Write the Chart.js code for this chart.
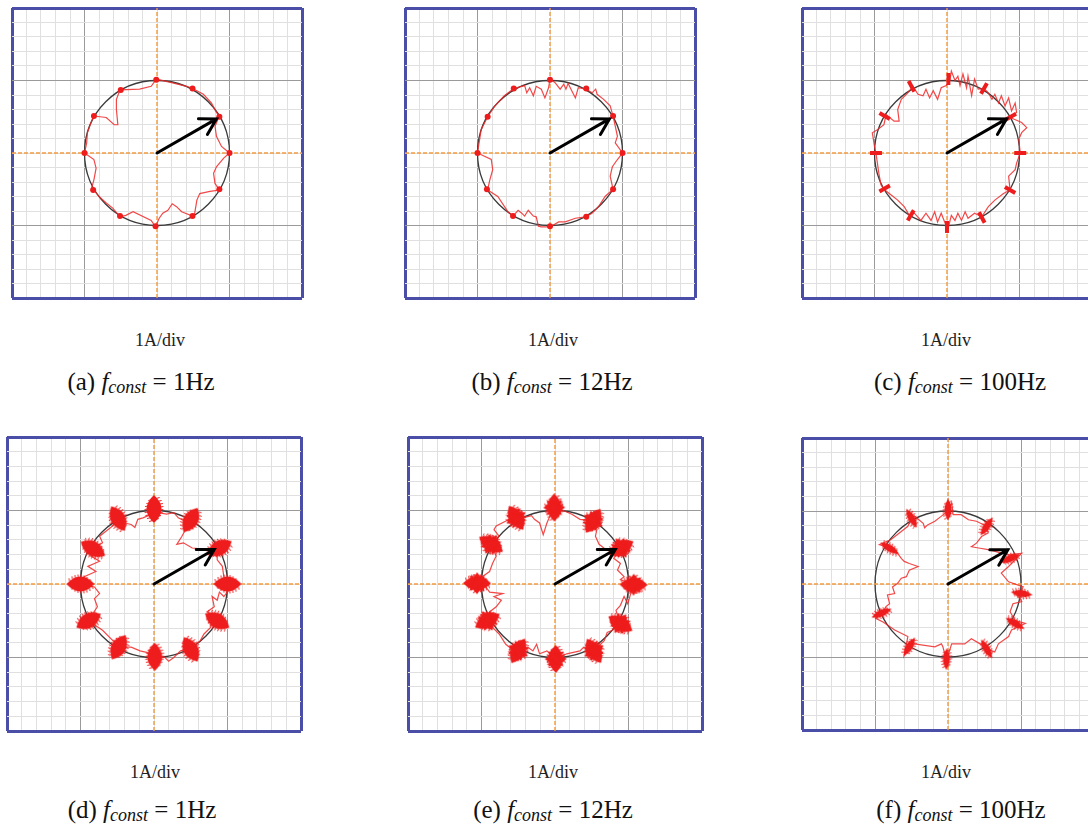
<!DOCTYPE html>
<html>
<head>
<meta charset="utf-8">
<script src="https://cdn.jsdelivr.net/npm/chart.js@4.4.1/dist/chart.umd.min.js"></script>
<style>
  body { margin: 0; background: #fff; overflow: hidden; }
  #fig { position: relative; width: 1088px; height: 832px; overflow: hidden; background: #fff; }
  #fig canvas { position: absolute; }
  .unit, .cap {
    position: absolute; width: 300px; text-align: center; white-space: nowrap;
    font-family: "Liberation Serif", "Times New Roman", serif; color: #111;
  }
  .unit { font-size: 18px; line-height: 18px; color: #222; }
  .cap { font-size: 25px; line-height: 25px; }
  .cap .sub { font-size: 18px; font-style: italic; position: relative; top: 3px; }
</style>
</head>
<body>
<div id="fig"></div>
<script>
// axis grid: 1A/div major, 5 minor steps per div
const gridTicks = [-2, -1.8, -1.6, -1.4, -1.2, -1, -0.8, -0.6, -0.4, -0.2, 0,
  0.2, 0.4, 0.6, 0.8, 1, 1.2, 1.4, 1.6, 1.8, 2]
const refRadius = 1      // reference circle, A
const arrowTip = [0.82, 0.47]
const unitLabel = "1A/div"
const letters = ["a", "b", "c", "d", "e", "f"]
const freqs = ["1Hz", "12Hz", "100Hz", "1Hz", "12Hz", "100Hz"]

// current trajectories (iα, iβ) in A
const pathA = [[-0.01,1.02],[0.20,0.97],[0.41,0.92],[0.49,0.89],[0.64,0.81],[0.75,0.69],[0.82,0.56],[0.86,0.51],[0.80,0.37],[0.82,0.23],[0.89,0.09],[1.00,0.00],[0.92,-0.07],[0.82,-0.19],[0.78,-0.28],[0.80,-0.42],[0.86,-0.51],[0.73,-0.53],[0.59,-0.56],[0.55,-0.65],[0.52,-0.83],[0.49,-0.87],[0.34,-0.81],[0.27,-0.74],[0.21,-0.70],[0.15,-0.79],[0.08,-0.83],[0.03,-0.90],[-0.02,-1.02],[-0.08,-0.93],[-0.33,-0.81],[-0.43,-0.86],[-0.51,-0.88],[-0.61,-0.76],[-0.70,-0.69],[-0.80,-0.60],[-0.87,-0.51],[-0.91,-0.51],[-0.87,-0.37],[-0.84,-0.21],[-0.87,-0.09],[-1.00,0.00],[-0.97,0.14],[-0.96,0.28],[-0.91,0.42],[-0.87,0.51],[-0.70,0.49],[-0.59,0.39],[-0.54,0.39],[-0.56,0.60],[-0.56,0.74],[-0.51,0.87],[-0.24,0.88],[-0.08,0.92]]
const pathB = [[0.00,1.02],[0.07,0.97],[0.14,0.88],[0.19,0.95],[0.22,0.88],[0.25,0.96],[0.30,0.86],[0.35,0.76],[0.39,0.90],[0.50,0.88],[0.58,0.83],[0.63,0.88],[0.65,0.81],[0.74,0.74],[0.83,0.65],[0.87,0.51],[0.90,0.37],[0.93,0.23],[0.90,0.14],[1.00,0.00],[0.93,-0.09],[0.86,-0.19],[0.83,-0.32],[0.87,-0.50],[0.76,-0.60],[0.67,-0.74],[0.58,-0.83],[0.49,-0.88],[0.35,-0.90],[0.21,-0.95],[0.12,-0.95],[0.00,-1.02],[-0.12,-1.02],[-0.16,-1.01],[-0.19,-0.88],[-0.23,-0.87],[-0.30,-0.79],[-0.35,-0.87],[-0.39,-0.83],[-0.44,-0.79],[-0.51,-0.87],[-0.58,-0.81],[-0.72,-0.60],[-0.86,-0.51],[-0.83,-0.37],[-0.79,-0.23],[-0.81,-0.09],[-1.00,0.00],[-0.97,0.19],[-0.95,0.32],[-0.86,0.50],[-0.76,0.65],[-0.63,0.79],[-0.50,0.89],[-0.35,0.93],[-0.32,0.83],[-0.28,0.90],[-0.23,0.79],[-0.19,0.92],[-0.12,0.88],[-0.07,0.76],[-0.02,0.90]]
const pathC = [[0.04,1.00],[0.06,1.13],[0.11,1.00],[0.15,1.06],[0.18,0.93],[0.22,1.09],[0.27,0.90],[0.29,1.06],[0.34,0.79],[0.38,1.02],[0.43,0.88],[0.51,0.89],[0.57,0.83],[0.62,0.74],[0.66,0.81],[0.71,0.69],[0.75,0.79],[0.80,0.65],[0.85,0.76],[0.89,0.58],[0.94,0.69],[0.96,0.56],[0.87,0.49],[1.03,0.42],[1.10,0.35],[1.03,0.28],[0.99,0.19],[1.01,0.00],[0.96,-0.14],[0.94,-0.23],[0.85,-0.32],[0.87,-0.51],[0.78,-0.56],[0.66,-0.65],[0.57,-0.74],[0.48,-0.88],[0.38,-0.83],[0.29,-0.90],[0.25,-0.81],[0.20,-0.93],[0.15,-0.83],[0.11,-0.93],[0.06,-0.86],[0.01,-1.06],[-0.08,-0.83],[-0.13,-0.95],[-0.17,-0.81],[-0.22,-0.93],[-0.29,-0.83],[-0.36,-0.93],[-0.45,-0.83],[-0.52,-0.86],[-0.59,-0.74],[-0.68,-0.65],[-0.77,-0.58],[-0.87,-0.50],[-0.91,-0.44],[-0.94,-0.28],[-0.96,-0.14],[-0.98,0.00],[-1.00,0.09],[-1.03,0.28],[-0.96,0.32],[-0.87,0.39],[-0.84,0.53],[-0.73,0.44],[-0.66,0.44],[-0.68,0.60],[-0.63,0.74],[-0.54,0.83],[-0.47,0.92],[-0.40,0.81],[-0.33,0.79],[-0.29,0.88],[-0.24,0.76],[-0.19,0.86],[-0.13,0.74],[-0.08,0.90],[-0.01,0.93]]
const pathD = [[-0.01,1.02],[0.06,0.97],[0.17,0.95],[0.27,0.97],[0.33,0.90],[0.45,0.84],[0.43,0.74],[0.38,0.65],[0.31,0.54],[0.40,0.56],[0.52,0.49],[0.72,0.47],[0.86,0.44],[0.86,0.33],[0.93,0.24],[0.95,0.10],[1.02,-0.08],[0.95,-0.17],[0.89,-0.11],[0.86,-0.22],[0.79,-0.17],[0.82,-0.31],[0.72,-0.38],[0.82,-0.43],[0.77,-0.59],[0.68,-0.68],[0.63,-0.77],[0.50,-0.89],[0.36,-0.91],[0.27,-1.00],[0.20,-1.05],[0.15,-1.00],[0.01,-0.99],[-0.10,-0.93],[-0.19,-0.91],[-0.31,-0.86],[-0.48,-0.86],[-0.56,-0.77],[-0.70,-0.63],[-0.89,-0.50],[-0.83,-0.40],[-0.77,-0.31],[-0.81,-0.20],[-0.74,-0.13],[-0.81,-0.04],[-1.00,0.00],[-0.95,0.10],[-0.79,0.17],[-0.90,0.24],[-0.74,0.31],[-0.86,0.38],[-0.83,0.48],[-0.70,0.56],[-0.74,0.65],[-0.65,0.72],[-0.56,0.79],[-0.49,0.89],[-0.40,0.83],[-0.31,0.81],[-0.26,0.77],[-0.22,0.88],[-0.15,0.90],[-0.08,0.93]]
const pathE = [[-0.01,1.04],[0.11,1.00],[0.23,0.95],[0.34,0.88],[0.52,0.86],[0.57,0.74],[0.55,0.65],[0.60,0.54],[0.69,0.47],[0.90,0.49],[0.80,0.35],[0.89,0.28],[0.85,0.19],[0.94,0.10],[0.89,0.06],[1.07,-0.01],[1.03,-0.13],[0.99,-0.27],[0.94,-0.17],[0.89,-0.29],[0.83,-0.36],[0.89,-0.54],[0.78,-0.63],[0.71,-0.66],[0.67,-0.77],[0.62,-0.82],[0.53,-0.91],[0.39,-0.86],[0.34,-0.91],[0.25,-0.93],[0.16,-0.95],[0.01,-1.02],[-0.11,-0.91],[-0.21,-0.95],[-0.25,-0.82],[-0.30,-0.91],[-0.37,-0.86],[-0.50,-0.91],[-0.62,-0.86],[-0.67,-0.82],[-0.76,-0.68],[-0.83,-0.61],[-0.92,-0.50],[-0.89,-0.38],[-0.80,-0.31],[-0.73,-0.22],[-0.83,-0.17],[-0.71,-0.13],[-0.89,-0.11],[-0.94,-0.04],[-1.06,0.01],[-0.99,0.10],[-0.89,0.17],[-0.85,0.28],[-0.80,0.38],[-0.87,0.54],[-0.76,0.65],[-0.83,0.74],[-0.80,0.79],[-0.62,0.88],[-0.53,0.90],[-0.44,0.90],[-0.32,0.93],[-0.28,0.88],[-0.21,0.83],[-0.16,0.67],[-0.11,0.83],[-0.05,0.97]]
const pathF = [[0.00,1.00],[0.05,1.11],[0.07,0.95],[0.18,0.95],[0.28,0.88],[0.39,0.86],[0.53,0.79],[0.55,0.70],[0.46,0.65],[0.39,0.56],[0.32,0.51],[0.44,0.49],[0.55,0.47],[0.83,0.40],[1.01,0.42],[0.83,0.24],[0.73,0.15],[0.83,0.03],[1.03,-0.04],[0.96,-0.17],[1.01,-0.24],[0.89,-0.27],[0.85,-0.38],[0.92,-0.50],[1.06,-0.54],[0.87,-0.63],[0.83,-0.72],[0.69,-0.82],[0.64,-0.93],[0.53,-0.89],[0.44,-0.82],[0.32,-0.75],[0.23,-0.82],[0.05,-0.82],[-0.02,-1.05],[-0.07,-0.86],[-0.09,-0.82],[-0.18,-0.86],[-0.46,-0.82],[-0.53,-0.86],[-0.60,-0.98],[-0.55,-0.72],[-0.73,-0.63],[-0.89,-0.52],[-0.99,-0.47],[-0.89,-0.40],[-0.85,-0.31],[-0.80,-0.27],[-0.83,-0.15],[-0.73,-0.13],[-0.76,-0.04],[-0.69,0.01],[-0.64,0.08],[-0.57,0.10],[-0.53,0.19],[-0.41,0.24],[-0.53,0.28],[-0.60,0.31],[-0.64,0.35],[-0.69,0.42],[-0.73,0.47],[-0.94,0.54],[-0.78,0.61],[-0.64,0.72],[-0.55,0.79],[-0.50,0.90],[-0.46,0.93],[-0.34,0.83],[-0.32,0.77],[-0.28,0.81],[-0.18,0.86],[-0.09,0.93]]

// sampling marks (every 30 deg) in A
const marksA = [[-0.01,1.01],[0.49,0.89],[0.86,0.50],[1.00,0.00],[0.86,-0.50],[0.49,-0.87],[-0.02,-1.01],[-0.51,-0.87],[-0.88,-0.51],[-1.00,0.00],[-0.87,0.51],[-0.50,0.87]]
const marksB = [[0.00,1.01],[0.50,0.89],[0.87,0.51],[1.00,0.00],[0.87,-0.50],[0.50,-0.88],[0.00,-1.01],[-0.51,-0.87],[-0.87,-0.50],[-1.00,0.00],[-0.86,0.50],[-0.50,0.89]]
const marksC = [[0.02,1.02],[0.51,0.89],[0.88,0.50],[1.01,0.00],[0.87,-0.51],[0.48,-0.89],[0.00,-1.02],[-0.50,-0.86],[-0.86,-0.49],[-0.98,0.00],[-0.86,0.51],[-0.49,0.92]]
const marksD = [[0.00,1.02],[0.50,0.87],[0.89,0.49],[1.00,0.00],[0.86,-0.50],[0.50,-0.89],[0.01,-0.99],[-0.48,-0.86],[-0.89,-0.50],[-1.00,0.00],[-0.83,0.48],[-0.49,0.89]]
const marksE = [[-0.01,1.04],[0.52,0.86],[0.90,0.49],[1.07,-0.01],[0.89,-0.54],[0.53,-0.91],[0.01,-1.02],[-0.50,-0.91],[-0.92,-0.50],[-1.06,0.01],[-0.87,0.54],[-0.53,0.90]]
const marksF = [[0.00,1.02],[0.53,0.79],[0.85,0.35],[1.01,-0.13],[0.92,-0.54],[0.53,-0.89],[-0.02,-1.03],[-0.53,-0.86],[-0.91,-0.40],[-0.80,0.49],[-0.50,0.90]]

const RED = "#ee1c1c"

// lens shaped fuzzy glyph, long axis along x (radial after rotation)
function lens(g, len, wid, rot) {
  g.save()
  g.rotate(rot)
  g.beginPath()
  g.moveTo(-len / 2, 0)
  g.quadraticCurveTo(0, -wid, len / 2, 0)
  g.quadraticCurveTo(0, wid, -len / 2, 0)
  g.fill()
  g.beginPath()
  for (let i = -len / 2 + 3; i < len / 2 - 2; i += 3) {
    const h = (wid / 2) * (1 - (2 * i / len) ** 2) + 2
    g.moveTo(i - 1.5, -h)
    g.lineTo(i + 1.5, h)
  }
  g.stroke()
  g.restore()
}

function makeBlob(len, wid, extra) {
  const size = Math.ceil(len) + 10
  const c = document.createElement("canvas")
  c.width = size
  c.height = size
  const g = c.getContext("2d")
  g.translate(size / 2, size / 2)
  g.fillStyle = RED
  g.strokeStyle = RED
  g.lineWidth = 1
  lens(g, len, wid, 0)
  if (extra) {
    lens(g, extra[0], extra[1], Math.PI / 2)
    lens(g, extra[2], extra[3], Math.PI / 4)
    lens(g, extra[2], extra[3], -Math.PI / 4)
  }
  return c
}

const blobD = makeBlob(28, 15)
const blobE = makeBlob(28, 14, [22, 9, 22, 6])
const blobF = makeBlob(22, 7)

const markStyles = {
  dot: { pointStyle: "circle", pointRadius: 3, pointBackgroundColor: RED, pointBorderWidth: 0 },
  tick: { pointStyle: "line", pointRadius: 6, pointBorderColor: RED, pointBorderWidth: 4 },
  blobD: { pointStyle: blobD, pointRadius: 6 },
  blobE: { pointStyle: blobE, pointRadius: 6 },
  blobF: { pointStyle: blobF, pointRadius: 6 },
}

const panels = [
  { path: pathA, marks: marksA, mark: "dot",   cx: 157, cy: 153, half: 145, unitX: 160, capX: 141, row: 0 },
  { path: pathB, marks: marksB, mark: "dot",   cx: 550, cy: 153, half: 145, unitX: 553, capX: 552, row: 0 },
  { path: pathC, marks: marksC, mark: "tick",  cx: 947, cy: 153, half: 145, unitX: 946, capX: 960, row: 0 },
  { path: pathD, marks: marksD, mark: "blobD", cx: 154, cy: 584, half: 147, unitX: 155, capX: 142, row: 1 },
  { path: pathE, marks: marksE, mark: "blobE", cx: 555, cy: 584, half: 147, unitX: 553, capX: 553, row: 1 },
  { path: pathF, marks: marksF, mark: "blobF", cx: 948, cy: 584, half: 146, unitX: 946, capX: 961, row: 1 },
]

const toXY = arr => arr.map(p => ({ x: p[0], y: p[1] }))
const isMajor = v => Math.abs(v - Math.round(v)) < 1e-6

const gridColor = v => {
  if (Math.abs(Math.abs(v) - 2) < 1e-6) return "#4a4ea6"
  if (isMajor(v) && Math.abs(v) > 1e-6) return "#9a9a9a"
  return "#e0e0e0"
}
const gridWidth = v => (Math.abs(Math.abs(v) - 2) < 1e-6 ? 3 : 1)

const axisOpts = {
  type: "linear",
  min: -2,
  max: 2,
  afterBuildTicks: s => { s.ticks = gridTicks.map(v => ({ value: v })) },
  ticks: { display: false },
  border: { display: false },
  grid: {
    drawTicks: false,
    color: c => (c.tick ? gridColor(c.tick.value) : "#e0e0e0"),
    lineWidth: c => (c.tick ? gridWidth(c.tick.value) : 1),
  },
}

// reference circle under the traces, current vector arrow on top
const overlay = {
  id: "overlay",
  beforeDatasetsDraw(chart) {
    const xs = chart.scales.x, ys = chart.scales.y
    const ctx = chart.ctx
    const x0 = xs.getPixelForValue(0), y0 = ys.getPixelForValue(0)
    const r = xs.getPixelForValue(refRadius) - x0
    ctx.save()
    ctx.strokeStyle = "#3a3a3a"
    ctx.lineWidth = 1.3
    ctx.beginPath()
    ctx.arc(x0, y0, r, 0, Math.PI * 2)
    ctx.stroke()
    ctx.restore()
  },
  afterDatasetsDraw(chart) {
    const xs = chart.scales.x, ys = chart.scales.y
    const ctx = chart.ctx
    const x0 = xs.getPixelForValue(0), y0 = ys.getPixelForValue(0)
    const x1 = xs.getPixelForValue(arrowTip[0]), y1 = ys.getPixelForValue(arrowTip[1])
    const a = Math.atan2(y1 - y0, x1 - x0)
    const head = 18
    ctx.save()
    ctx.strokeStyle = "#000"
    ctx.lineWidth = 3
    ctx.lineCap = "round"
    ctx.beginPath()
    ctx.moveTo(x0, y0)
    ctx.lineTo(x1, y1)
    ctx.moveTo(x1 - head * Math.cos(a - Math.PI / 6), y1 - head * Math.sin(a - Math.PI / 6))
    ctx.lineTo(x1, y1)
    ctx.lineTo(x1 - head * Math.cos(a + Math.PI / 6), y1 - head * Math.sin(a + Math.PI / 6))
    ctx.stroke()
    ctx.restore()
  },
}

const fig = document.getElementById("fig")

panels.forEach((p, i) => {
  const side = p.half * 2 + 4
  const cv = document.createElement("canvas")
  cv.width = side
  cv.height = side
  cv.style.left = (p.cx - p.half - 2) + "px"
  cv.style.top = (p.cy - p.half - 2) + "px"
  fig.appendChild(cv)

  const trace = toXY(p.path)
  trace.push(trace[0])

  new Chart(cv, {
    type: "scatter",
    data: {
      datasets: [
        {
          data: [{ x: -2, y: 0 }, { x: 2, y: 0 }],
          showLine: true, pointRadius: 0, borderColor: "#f39a3e", borderWidth: 1.4,
          borderDash: [4, 2], order: 4,
        },
        {
          data: [{ x: 0, y: -2 }, { x: 0, y: 2 }],
          showLine: true, pointRadius: 0, borderColor: "#f39a3e", borderWidth: 1.4,
          borderDash: [4, 2], order: 4,
        },
        {
          data: trace,
          showLine: true, pointRadius: 0, borderColor: "rgba(240, 40, 40, 0.85)",
          borderWidth: 1.2, tension: 0, order: 2,
        },
        Object.assign({
          data: toXY(p.marks),
          showLine: false,
          pointRotation: c => -Math.atan2(c.raw.y, c.raw.x) * 180 / Math.PI,
          order: 1,
        }, markStyles[p.mark]),
      ],
    },
    options: {
      responsive: false,
      animation: false,
      events: [],
      layout: { padding: 2, autoPadding: false },
      scales: { x: axisOpts, y: axisOpts },
      plugins: { legend: { display: false }, tooltip: { enabled: false } },
    },
    plugins: [overlay],
  })

  const unit = document.createElement("div")
  unit.className = "unit"
  unit.textContent = unitLabel
  unit.style.left = (p.unitX - 150) + "px"
  unit.style.top = (p.row ? 763 : 331) + "px"
  fig.appendChild(unit)

  const cap = document.createElement("div")
  cap.className = "cap"
  cap.innerHTML = "(" + letters[i] + ") <i>f</i><span class=\"sub\">const</span> = " + freqs[i]
  cap.style.left = (p.capX - 150) + "px"
  cap.style.top = (p.row ? 797 : 369) + "px"
  fig.appendChild(cap)
})
</script>
</body>
</html>
